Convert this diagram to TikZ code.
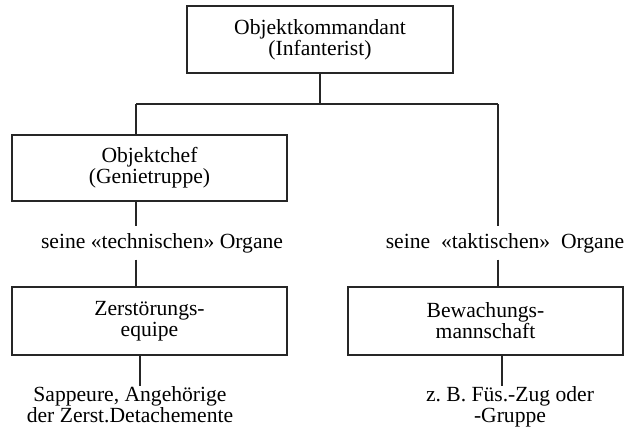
\documentclass[tikz,border=0pt]{standalone}
\usepackage{fontspec}
\setmainfont{Liberation Serif}
\frenchspacing
\begin{document}
\begin{tikzpicture}[x=0.5pt, y=-0.5pt, line width=0.7pt, draw=black!85,
            every node/.style = {font=\fontsize{10.8}{10.6}\selectfont, align=center},
            unit/.style = {draw, rectangle, inner sep=0pt},
            organ/.style = {inner sep=0pt, minimum height=16pt}]
            \useasboundingbox (0,0) rectangle (632,428);
            % Top box
            \node[unit, minimum width=133pt, minimum height=33.5pt] (kdt) at (320,39.5) {Objektkommandant\\(Infanterist)};
            % Branch points
            \coordinate (jl) at (136,104);
            \coordinate (jr) at (498,104);
            \coordinate (dl) at (140,0);
            \coordinate (dr) at (502,0);
            % Left branch
            \node[unit, minimum width=137.5pt, minimum height=33pt] (chef) at (149.5,168) {Objektchef\\(Genietruppe)};
            \node[organ] (tech) at (162,243) {seine «technischen» Organe};
            \node[unit, minimum width=137.5pt, minimum height=34pt] (equipe) at (149.5,321) {Zerstörungs-\\equipe};
            \node[anchor=north, inner sep=0pt] (sapp) at (130,386) {Sappeure, Angehörige\\der Zerst.Detachemente};
            % Right branch
            \node[organ] (takt) at (505,243) {seine \ «taktischen» \ Organe};
            \node[unit, minimum width=137.5pt, minimum height=34pt] (wache) at (485.5,321) {Bewachungs-\\mannschaft};
            \node[anchor=north, inner sep=0pt] (fues) at (510,386) {z. B. Füs.-Zug oder\\-Gruppe};
            % Connectors
            \draw (kdt.south) -- (kdt.south |- jl);
            \draw (jl) -- (jr);
            \draw (jl) -- (jl |- chef.north);
            \draw (chef.south -| jl) -- (tech.north -| jl);
            \draw (tech.south -| jl) -- (equipe.north -| jl);
            \draw (equipe.south -| dl) -- (sapp.north -| dl);
            \draw (jr) -- (jr |- takt.north);
            \draw (takt.south -| jr) -- (wache.north -| jr);
            \draw (wache.south -| dr) -- (fues.north -| dr);
        \end{tikzpicture}
\end{document}
